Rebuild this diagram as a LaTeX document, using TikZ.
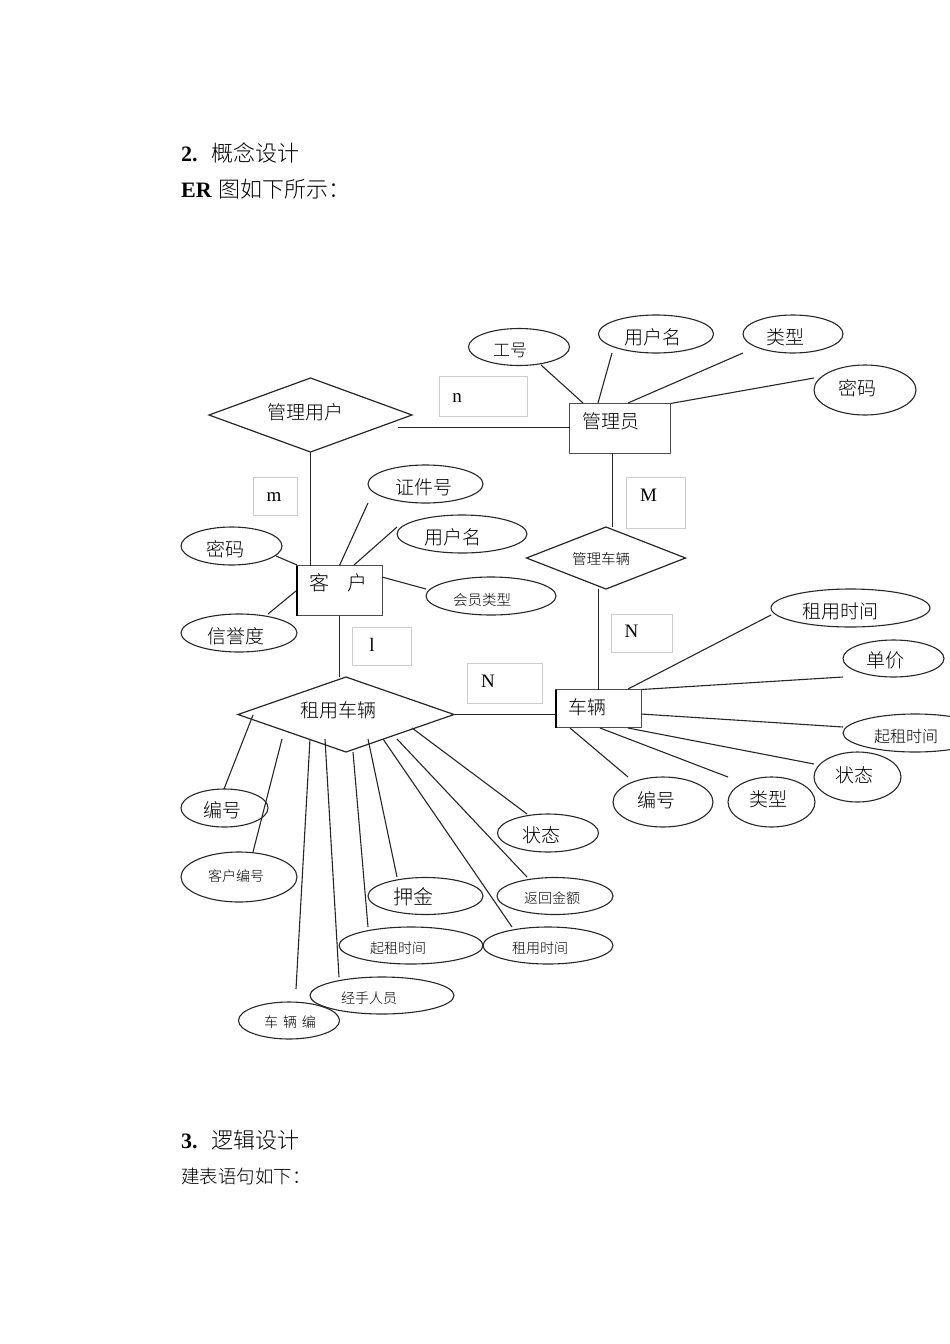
\documentclass[tikz,border=0pt]{standalone}
\usepackage{fontspec}
\setmainfont{Liberation Serif}
\newfontfamily\cjk{Noto Sans CJK SC}[UprightFont=* Light]
\usetikzlibrary{shapes.geometric}
\tikzset{
    txt/.style = {font=\cjk\fontsize{#1}{#1}\selectfont,inner sep=0pt},
    ltr/.style = {font=\fontsize{#1}{#1}\selectfont,inner sep=0pt},
    myent/.style = {rectangle, draw=black!70, line width=1.6pt, inner sep=0pt, outer sep=0pt},
    myrel/.style = {diamond, draw=black!85, line width=1.2pt, inner sep=0pt, outer sep=0pt},
    myattr/.style = {ellipse, draw=black!85, line width=1.1pt, inner sep=0pt, outer sep=0pt},
    mybox/.style = {rectangle, draw=black!20, line width=0.8pt, inner sep=0pt, outer sep=0pt},
    edgen/.style = {line width=1.1pt,black!85},
    head/.style = {anchor=west,inner sep=0pt,font=\fontsize{22}{22}\selectfont}
}
\begin{document}
\begin{tikzpicture}[x=1pt,y=-1pt]
\useasboundingbox (0,0) rectangle (950,1344);
% text of the page
\node[head] at (181,153) (sec2) {\textbf{2.}\hspace{14pt}{\cjk 概念设计}};
\node[head] at (181,189) (erline) {\textbf{ER}\hspace{7pt}{\cjk 图如下所示：}};
\node[head] at (181,1140) (sec3) {\textbf{3.}\hspace{14pt}{\cjk 逻辑设计}};
\node[head,font=\cjk\fontsize{18.5}{18.5}\selectfont] at (181,1177) (sqlline) {建表语句如下：};
% entities
\node[myent, minimum width=101, minimum height=50, label={[txt=19,shift={(-9.5pt,7.5pt)}]center:管理员}] at (620,428.5) (admin) {};
\node[myent, minimum width=86, minimum height=50, label={[txt=20,shift={(-1pt,7.5pt)}]center:客\hspace{18pt}户}] at (339.5,590.5) (cust) {};
\node[myent, minimum width=86, minimum height=38, label={[txt=19,shift={(-11pt,1.5pt)}]center:车辆}] at (598.5,708.5) (car) {};
% relations
\node[myrel, minimum width=203, minimum height=74, label={[txt=19,shift={(-5pt,3pt)}]center:管理用户}] at (310.5,415) (mguser) {};
\node[myrel, minimum width=159, minimum height=62, label={[txt=14.5,shift={(-5pt,-1pt)}]center:管理车辆}] at (606,558) (mgcar) {};
\node[myrel, minimum width=216, minimum height=75, label={[txt=19,shift={(-8pt,4pt)}]center:租用车辆}] at (346,714.5) (rent) {};
% boxes with the numbers
\node[mybox, minimum width=88, minimum height=40, label={[ltr=19,shift={(-26pt,-2pt)}]center:n}] at (483,396) (boxn) {};
\node[mybox, minimum width=44, minimum height=38, label={[ltr=19,shift={(-1pt,-1pt)}]center:m}] at (275,496) (boxm) {};
\node[mybox, minimum width=59, minimum height=38, label={[ltr=19,shift={(-9.5pt,1pt)}]center:l}] at (381.5,646) (boxl) {};
\node[mybox, minimum width=59, minimum height=51, label={[ltr=19,shift={(-7pt,7pt)}]center:M}] at (655.5,502.5) (boxM) {};
\node[mybox, minimum width=61, minimum height=38, label={[ltr=19,shift={(-10pt,2pt)}]center:N}] at (641.5,633) (boxNa) {};
\node[mybox, minimum width=75, minimum height=40, label={[ltr=19,shift={(-16.5pt,2pt)}]center:N}] at (504.5,683) (boxNb) {};
% attributes of admin
\node[myattr, minimum width=101, minimum height=37, label={[txt=17,shift={(-9pt,-3pt)}]center:工号}] at (519,347) (aid) {};
\node[myattr, minimum width=115, minimum height=38, label={[txt=19,shift={(-3pt,-3pt)}]center:用户名}] at (656,334) (aname) {};
\node[myattr, minimum width=100, minimum height=38, label={[txt=19,shift={(-8pt,-3pt)}]center:类型}] at (793,334) (atype) {};
\node[myattr, minimum width=102, minimum height=50, label={[txt=19,shift={(-8pt,2pt)}]center:密码}] at (865,390) (apwd) {};
% attributes of customer
\node[myattr, minimum width=115, minimum height=38, label={[txt=19,shift={(-2pt,-3pt)}]center:证件号}] at (425.5,484) (cid) {};
\node[myattr, minimum width=130, minimum height=38, label={[txt=19,shift={(-9pt,-3pt)}]center:用户名}] at (462,534) (cname) {};
\node[myattr, minimum width=101, minimum height=38, label={[txt=19,shift={(-6pt,-3pt)}]center:密码}] at (231.5,546) (cpwd) {};
\node[myattr, minimum width=116, minimum height=38, label={[txt=19,shift={(-3pt,-3pt)}]center:信誉度}] at (239,633) (ccredit) {};
\node[myattr, minimum width=130, minimum height=38, label={[txt=14.5,shift={(-9pt,-4pt)}]center:会员类型}] at (491,596) (cvip) {};
% attributes of car
\node[myattr, minimum width=159, minimum height=38, label={[txt=19,shift={(-10pt,-3pt)}]center:租用时间}] at (850.5,608) (vtime) {};
\node[myattr, minimum width=101, minimum height=37, label={[txt=19,shift={(-8pt,-2pt)}]center:单价}] at (893.5,658.5) (vprice) {};
\node[myattr, minimum width=144, minimum height=38, label={[txt=16,shift={(-9pt,-3pt)}]center:起租时间}] at (915,733) (vstart) {};
\node[myattr, minimum width=87, minimum height=50, label={[txt=19,shift={(-3pt,2pt)}]center:状态}] at (857.5,777) (vstate) {};
\node[myattr, minimum width=87, minimum height=50, label={[txt=19,shift={(-3pt,3pt)}]center:类型}] at (771.5,802) (vtype) {};
\node[myattr, minimum width=100, minimum height=50, label={[txt=19,shift={(-7pt,2pt)}]center:编号}] at (663,802) (vid) {};
% attributes of rent
\node[myattr, minimum width=87, minimum height=38, label={[txt=19,shift={(-2pt,-2pt)}]center:编号}] at (224.5,808) (rid) {};
\node[myattr, minimum width=116, minimum height=50, label={[txt=14,shift={(-3pt,1pt)}]center:客户编号}] at (239,877) (rcust) {};
\node[myattr, minimum width=101, minimum height=38, label={[txt=19,shift={(-7pt,-2pt)}]center:状态}] at (548,833) (rstate) {};
\node[myattr, minimum width=116, minimum height=37, label={[txt=14,shift={(-3pt,-2pt)}]center:返回金额}] at (555,896) (rback) {};
\node[myattr, minimum width=130, minimum height=37, label={[txt=14,shift={(-8pt,-3pt)}]center:租用时间}] at (548,945.5) (rtime) {};
\node[myattr, minimum width=115, minimum height=37, label={[txt=20,shift={(-12pt,-1pt)}]center:押金}] at (425.5,896) (rdep) {};
\node[myattr, minimum width=144, minimum height=37, label={[txt=14,shift={(-13pt,-3pt)}]center:起租时间}] at (411,945.5) (rstart) {};
\node[myattr, minimum width=144, minimum height=37, label={[txt=14,shift={(-13pt,-3pt)}]center:经手人员}] at (382,995.5) (rstaff) {};
\node[myattr, minimum width=101, minimum height=37, label={[txt=14,shift={(1pt,-2pt)}]center:车\hspace{5pt}辆\hspace{5pt}编}] at (289,1020.5) (rcar) {};
% free ends of the lines
\coordinate (mgu) at (398,427.5);
\coordinate (admb) at (612.5,453);
\coordinate (mgct) at (612.5,527);
\coordinate (aida) at (541,365);
\coordinate (aidb) at (583,403);
\coordinate (anamea) at (612,353);
\coordinate (anameb) at (598,403);
\coordinate (atypea) at (743,353);
\coordinate (atypeb) at (628,403);
\coordinate (apwda) at (814,378);
\coordinate (cida) at (368,503);
\coordinate (cnamea) at (397,527);
\coordinate (cnameb) at (354,565);
\coordinate (cpwda) at (276,556);
\coordinate (cpwdb) at (297,565);
\coordinate (ccreda) at (268,614);
\coordinate (ccredb) at (296,591);
\coordinate (cvipa) at (426,589);
\coordinate (cvipb) at (382,577);
\coordinate (vtimea) at (771,615);
\coordinate (vtimeb) at (628,689);
\coordinate (vpricea) at (843,677);
\coordinate (vstarta) at (843,727);
\coordinate (vstartb) at (641,714);
\coordinate (vstatea) at (814,764);
\coordinate (vstateb) at (628,728);
\coordinate (vtypea) at (728,777);
\coordinate (vtypeb) at (600,728);
\coordinate (vida) at (628,777);
\coordinate (vidb) at (570,728);
\coordinate (rida) at (253,715);
\coordinate (ridb) at (224,789);
\coordinate (rcusta) at (282,739);
\coordinate (rcustb) at (253,852);
\coordinate (rstatea) at (412,728);
\coordinate (rstateb) at (527,814);
\coordinate (rbacka) at (397,739);
\coordinate (rbackb) at (527,877);
\coordinate (rtimea) at (383,739);
\coordinate (rtimeb) at (512,927);
\coordinate (rdepa) at (368,739);
\coordinate (rdepb) at (397,877);
\coordinate (rstarta) at (353,752);
\coordinate (rstartb) at (368,927);
\coordinate (rstaffa) at (325,739);
\coordinate (rstaffb) at (339,977);
\coordinate (rcara) at (310,739);
\coordinate (rcarb) at (296,989);
% lines between entities and relations
\draw[edgen] (mgu) -- (mgu -| admin.west);
\draw[edgen] (mguser.south) -- (mguser.south |- cust.north);
\draw[edgen] (admb) -- (mgct);
\draw[edgen] (car.north |- mgcar.south) -- (car.north);
\draw[edgen] (cust.south) -- (cust.south |- rent.north);
\draw[edgen] (rent.east) -- (rent.east -| car.west);
% lines to the attributes
\draw[edgen] (aida) -- (aidb);
\draw[edgen] (anamea) -- (anameb);
\draw[edgen] (atypea) -- (atypeb);
\draw[edgen] (apwda) -- (admin.north east);
\draw[edgen] (cida) -- (cust.north);
\draw[edgen] (cnamea) -- (cnameb);
\draw[edgen] (cpwda) -- (cpwdb);
\draw[edgen] (ccreda) -- (ccredb);
\draw[edgen] (cvipa) -- (cvipb);
\draw[edgen] (vtimea) -- (vtimeb);
\draw[edgen] (vpricea) -- (car.north east);
\draw[edgen] (vstarta) -- (vstartb);
\draw[edgen] (vstatea) -- (vstateb);
\draw[edgen] (vtypea) -- (vtypeb);
\draw[edgen] (vida) -- (vidb);
\draw[edgen] (rida) -- (ridb);
\draw[edgen] (rcusta) -- (rcustb);
\draw[edgen] (rstatea) -- (rstateb);
\draw[edgen] (rbacka) -- (rbackb);
\draw[edgen] (rtimea) -- (rtimeb);
\draw[edgen] (rdepa) -- (rdepb);
\draw[edgen] (rstarta) -- (rstartb);
\draw[edgen] (rstaffa) -- (rstaffb);
\draw[edgen] (rcara) -- (rcarb);
% heavier left sides
\draw[line width=2pt] (cust.north west) -- (cust.south west);
\draw[line width=2pt] (car.north west) -- (car.south west);

\end{tikzpicture}
\end{document}
